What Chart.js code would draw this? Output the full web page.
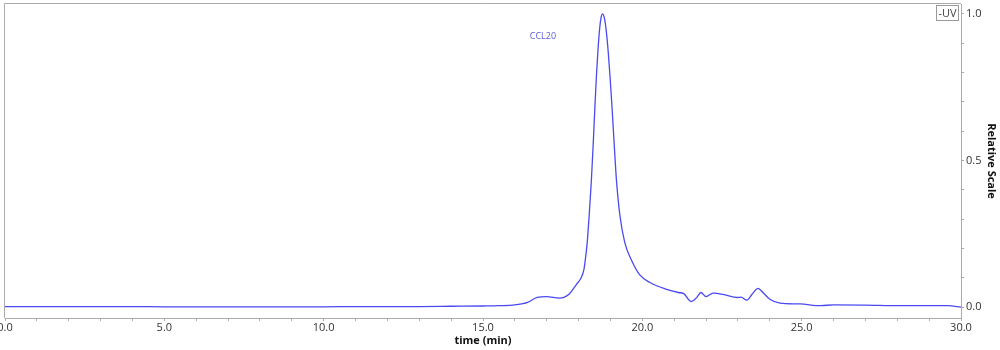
<!DOCTYPE html>
<html>
<head>
<meta charset="utf-8">
<script src="https://cdn.jsdelivr.net/npm/chart.js@4.4.1/dist/chart.umd.min.js"></script>
<style>
  html, body { margin: 0; padding: 0; background: #fff; }
  #wrap { position: relative; width: 1000px; height: 350px; }
</style>
</head>
<body>
<div id="wrap"><canvas id="chrom"></canvas></div>
<script>
// Chromatogram trace (time in min, relative signal)
const times = [0, 1, 2, 3, 4, 5, 6, 7, 8, 9, 10, 11, 12, 13, 14, 15, 15.5, 16, 16.4, 16.7, 17.0, 17.4,
  17.7, 17.83, 17.95, 18.08, 18.17, 18.22, 18.27, 18.33, 18.40, 18.46, 18.51, 18.56, 18.61, 18.66, 18.71, 18.75,
  18.80, 18.86, 18.93, 18.99, 19.05, 19.12, 19.19, 19.30, 19.45, 19.66, 19.92, 20.24, 20.76, 21.13, 21.3, 21.53,
  21.7, 21.84, 22.0, 22.22, 22.6, 22.97, 23.1, 23.28, 23.45, 23.63, 23.8, 24.0, 24.32, 24.95, 25.6, 26, 27, 28.1,
  29, 29.6, 30];
const signal = [0.002, 0.002, 0.002, 0.002, 0.002, 0.001, 0.001, 0.001, 0.001, 0.001, 0.001, 0.002, 0.002, 0.002, 0.003, 0.004, 0.005, 0.008, 0.016, 0.033, 0.036, 0.031,
  0.044, 0.062, 0.08, 0.1, 0.13, 0.17, 0.22, 0.31, 0.43, 0.56, 0.68, 0.79, 0.88, 0.95, 0.99, 1.0,
  0.99, 0.95, 0.87, 0.78, 0.68, 0.55, 0.43, 0.31, 0.22, 0.16, 0.11, 0.084, 0.061, 0.05, 0.046, 0.019,
  0.032, 0.05, 0.036, 0.048, 0.042, 0.033, 0.034, 0.024, 0.045, 0.064, 0.048, 0.027, 0.014, 0.011, 0.005, 0.008, 0.007, 0.005,
  0.005, 0.005, 0.0];
const xTickStep = 1;
const xLabelEvery = 5;
const yTicks = [0, 0.1, 0.2, 0.3, 0.4, 0.5, 0.6, 0.7, 0.8, 0.9, 1.0];
const yLabels = [0, 0.5, 1.0];
const peakName = 'CCL20';
const peakLabelAt = [16.88, 0.925];
const seriesName = 'UV';

const font = "'Open Sans', 'Noto Sans', sans-serif";

// frame, peak label and legend box
const decorations = {
  id: 'decorations',
  afterDraw(chart) {
    const { ctx, chartArea, scales } = chart;
    ctx.save();
    ctx.strokeStyle = '#ababab';
    ctx.lineWidth = 1;
    ctx.beginPath();
    ctx.moveTo(chartArea.left - 0.5, chartArea.bottom);
    ctx.lineTo(chartArea.left - 0.5, chartArea.top - 0.5);
    ctx.lineTo(chartArea.right, chartArea.top - 0.5);
    ctx.stroke();

    ctx.fillStyle = '#5b5bd6';
    ctx.font = '9px ' + font;
    ctx.textAlign = 'center';
    ctx.textBaseline = 'middle';
    ctx.fillText(peakName, scales.x.getPixelForValue(peakLabelAt[0]), scales.y.getPixelForValue(peakLabelAt[1]));

    const bx = chartArea.right - 24.5, by = chartArea.top + 1.5;
    ctx.strokeStyle = '#9a9a9a';
    ctx.strokeRect(bx, by, 22, 15);
    ctx.fillStyle = '#444';
    ctx.font = '11px ' + font;
    ctx.textAlign = 'left';
    ctx.fillText('-' + seriesName, bx + 2, by + 8);
    ctx.restore();
  },
};

new Chart(document.getElementById('chrom'), {
  type: 'line',
  data: {
    datasets: [{
      label: seriesName,
      data: times.map((t, i) => ({ x: t, y: signal[i] })),
      borderColor: '#4a4af0',
      borderWidth: 1.3,
      pointRadius: 0,
      cubicInterpolationMode: 'monotone',
      fill: false,
    }],
  },
  options: {
    responsive: true,
    maintainAspectRatio: false,
    animation: false,
    layout: { padding: { top: 4, left: 5, right: 0, bottom: 0 } },
    plugins: { legend: { display: false }, tooltip: { enabled: false } },
    scales: {
      x: {
        type: 'linear',
        min: 0,
        max: 30,
        afterFit(scale) {
          scale.height = 32;
          scale.paddingLeft = 0;
          scale.paddingRight = 0;
        },
        afterBuildTicks(scale) {
          const t = [];
          for (let v = 0; v <= 30; v += xTickStep) t.push({ value: v });
          scale.ticks = t;
        },
        border: { color: '#ababab' },
        grid: { drawOnChartArea: false, tickLength: 3, color: '#ababab' },
        ticks: {
          autoSkip: false,
          maxRotation: 0,
          padding: 0,
          color: '#333',
          font: { family: font, size: 11 },
          callback: (v) => (v % xLabelEvery === 0 ? v.toFixed(1) : ''),
        },
        title: {
          display: true,
          text: 'time (min)',
          color: '#111',
          padding: { top: 0, bottom: 3 },
          font: { family: font, size: 11, weight: 'bold' },
        },
      },
      y: {
        position: 'right',
        min: -0.037,
        max: 1.034,
        afterFit(scale) {
          scale.width = 39;
          scale.paddingTop = 0;
          scale.paddingBottom = 0;
        },
        afterBuildTicks(scale) {
          scale.ticks = yTicks.map((v) => ({ value: v }));
        },
        border: { color: '#ababab' },
        grid: { drawOnChartArea: false, tickLength: 3, color: '#ababab' },
        ticks: {
          autoSkip: false,
          padding: 2,
          color: '#333',
          font: { family: font, size: 11 },
          callback: (v) => (yLabels.some((l) => Math.abs(l - v) < 1e-6) ? v.toFixed(1) : ''),
        },
        title: {
          display: true,
          text: 'Relative Scale',
          color: '#111',
          padding: { top: 2, bottom: 2 },
          font: { family: font, size: 11, weight: 'bold' },
        },
      },
    },
  },
  plugins: [decorations],
});
</script>
</body>
</html>
